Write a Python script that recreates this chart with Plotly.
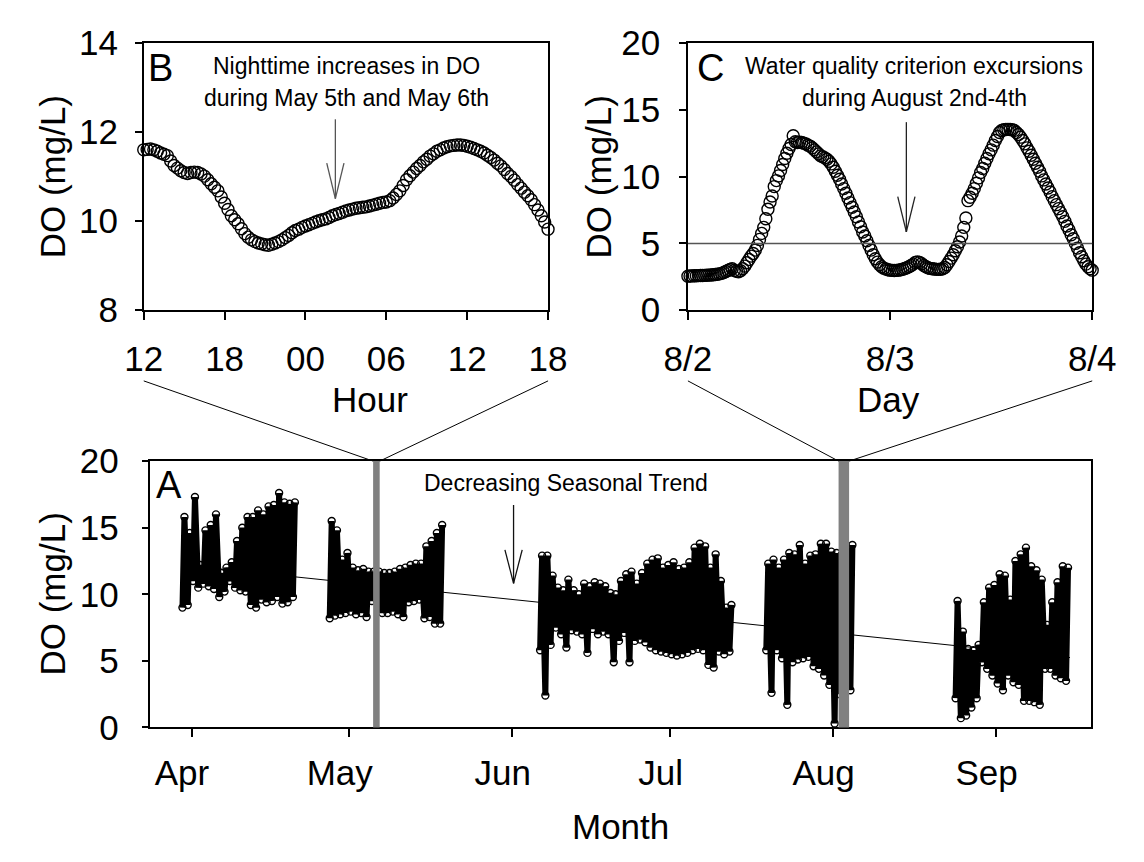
import pandas as pd
import plotly.graph_objects as go

W, H = 1144, 862
FONT = "Liberation Sans, Arial, sans-serif"

# ---------------- Panel B: May 5 12:00 -> May 6 18:00 (15-min DO, mg/L) ----------------
b_start = "2010-05-05 12:00"
b_end = "2010-05-06 18:00"
b_do = [
    11.60, 11.61, 11.62, 11.60, 11.57, 11.53, 11.50, 11.47,
    11.35, 11.25, 11.19, 11.13, 11.09, 11.07, 11.09, 11.10,
    11.09, 11.06, 11.01, 10.93, 10.84, 10.76, 10.68, 10.54,
    10.40, 10.26, 10.12, 10.03, 9.94, 9.83, 9.72, 9.64,
    9.58, 9.54, 9.51, 9.49, 9.47, 9.46, 9.48, 9.51,
    9.54, 9.58, 9.63, 9.68, 9.74, 9.79, 9.82, 9.86,
    9.89, 9.92, 9.95, 9.98, 10.01, 10.03, 10.05, 10.08,
    10.12, 10.15, 10.17, 10.20, 10.23, 10.25, 10.27, 10.29,
    10.30, 10.31, 10.32, 10.34, 10.36, 10.38, 10.40, 10.42,
    10.43, 10.46, 10.52, 10.60, 10.68, 10.80, 10.93, 11.02,
    11.10, 11.18, 11.25, 11.33, 11.39, 11.46, 11.51, 11.57,
    11.60, 11.64, 11.67, 11.69, 11.70, 11.71, 11.71, 11.70,
    11.68, 11.66, 11.63, 11.60, 11.57, 11.53, 11.48, 11.43,
    11.37, 11.30, 11.24, 11.16, 11.07, 11.00, 10.92, 10.82,
    10.74, 10.65, 10.57, 10.48, 10.37, 10.25, 10.12, 9.98,
    9.82,
]
b_tick_labels_fmt = "%H"

# ---------------- Panel C: Aug 2 00:00 -> Aug 4 00:00 (15-min DO, mg/L) ----------------
c_start = "2010-08-02 00:00"
c_end = "2010-08-04 00:00"
c_do = [
    2.55, 2.56, 2.57, 2.58, 2.58, 2.59, 2.60, 2.60,
    2.61, 2.62, 2.63, 2.64, 2.65, 2.67, 2.69, 2.72,
    2.76, 2.82, 2.90, 2.97, 3.05, 3.10, 2.98, 2.92,
    2.88, 2.95, 3.10, 3.30, 3.55, 3.80, 4.05, 4.25,
    4.50, 4.85, 5.30, 5.75, 6.20, 6.85, 7.55, 8.10,
    8.55, 9.25, 9.70, 10.05, 10.45, 10.90, 11.35, 11.75,
    12.10, 12.40, 13.05, 12.60, 12.55, 12.58, 12.55, 12.50,
    12.45, 12.35, 12.28, 12.15, 12.00, 11.85, 11.70, 11.55,
    11.48, 11.40, 11.30, 11.15, 10.95, 10.70, 10.40, 10.10,
    9.80, 9.45, 9.10, 8.75, 8.40, 8.05, 7.70, 7.35,
    7.00, 6.60, 6.25, 5.85, 5.55, 5.20, 4.85, 4.50,
    4.15, 3.85, 3.60, 3.40, 3.25, 3.15, 3.08, 3.03,
    3.00, 2.98, 2.97, 2.98, 3.00, 3.03, 3.07, 3.12,
    3.18, 3.26, 3.35, 3.45, 3.58, 3.62, 3.58, 3.48,
    3.35, 3.25, 3.18, 3.13, 3.10, 3.08, 3.06, 3.06,
    3.07, 3.10, 3.20, 3.40, 3.65, 3.90, 4.15, 4.45,
    4.75, 5.10, 5.55, 6.20, 6.90, 8.20, 8.45, 8.75,
    9.10, 9.50, 9.90, 10.30, 10.60, 11.00, 11.35, 11.70,
    12.00, 12.35, 12.70, 13.00, 13.30, 13.45, 13.50, 13.52,
    13.53, 13.52, 13.50, 13.45, 13.30, 13.15, 12.95, 12.70,
    12.45, 12.15, 11.90, 11.60, 11.30, 11.00, 10.70, 10.40,
    10.05, 9.75, 9.45, 9.15, 8.85, 8.50, 8.20, 7.90,
    7.60, 7.30, 7.00, 6.65, 6.30, 6.00, 5.65, 5.35,
    5.00, 4.65, 4.30, 4.00, 3.70, 3.45, 3.25, 3.10,
    3.00,
]
c_tick_days = ["2010-08-02", "2010-08-03", "2010-08-04"]
c_tick_labels = ["8/2", "8/3", "8/4"]
criterion = 5  # water quality criterion (mg/L)

# ---------------- Panel A: daily minimum / maximum DO per deployment ----------------
a_seg_starts = ["2010-03-30", "2010-04-27", "2010-06-06", "2010-07-19", "2010-08-24"]
a_min_1 = [9.0, 9.2, 11.0, 10.5, 10.8, 10.6, 10.4, 9.8, 10.2, 11.0, 10.5,
           10.3, 10.2, 9.2, 9.0, 9.6, 9.4, 9.5, 9.8, 9.3, 9.4, 9.8]
a_max_1 = [15.8, 14.6, 17.3, 12.2, 14.8, 15.2, 16.0, 11.6, 12.0, 12.4, 14.0,
           15.0, 15.8, 15.8, 16.3, 16.0, 16.6, 16.7, 17.6, 16.9, 16.8, 16.9]
a_min_2 = [8.2, 8.4, 8.5, 8.6, 8.7, 8.5, 8.6, 8.3, 9.5, 9.5, 8.6,
           8.6, 8.7, 8.5, 8.3, 9.4, 9.5, 9.6, 8.2, 8.3, 7.8, 7.8]
a_max_2 = [15.5, 14.8, 12.6, 13.1, 12.0, 11.8, 11.9, 11.7, 11.7, 11.7, 11.6,
           11.6, 11.7, 11.9, 12.0, 12.2, 12.3, 12.3, 13.6, 14.0, 14.6, 15.2]
a_min_3 = [5.8, 2.4, 6.2, 7.5, 7.0, 6.0, 7.3, 7.2, 7.0, 5.6, 7.4, 7.0, 7.2,
           7.0, 4.9, 6.5, 7.1, 4.9, 6.5, 6.6, 6.4, 6.0, 5.8, 5.7, 5.6, 5.5,
           5.4, 5.5, 5.6, 5.8, 5.9, 5.8, 4.7, 4.5, 5.7, 5.5, 5.7]
a_max_3 = [12.9, 12.9, 11.4, 10.5, 10.3, 11.1, 10.3, 10.0, 10.8, 10.6, 10.9,
           10.8, 10.6, 10.1, 10.0, 11.0, 11.5, 11.7, 10.8, 11.6, 12.3, 12.6,
           12.7, 12.0, 12.2, 12.4, 11.9, 12.0, 12.4, 13.5, 13.8, 13.6, 12.0,
           13.0, 11.0, 9.0, 9.2]
a_min_4 = [5.8, 2.6, 5.8, 5.2, 1.7, 4.9, 5.1, 5.2, 5.3, 4.6, 4.4, 3.9, 3.2,
           0.3, 2.5, 3.0, 2.8]
a_max_4 = [12.3, 12.6, 12.0, 12.6, 13.1, 13.0, 13.7, 12.3, 12.9, 13.0, 13.8,
           13.8, 13.2, 13.1, 13.0, 13.5, 13.7]
a_min_5 = [2.2, 0.7, 0.9, 1.5, 2.2, 4.9, 4.4, 3.9, 3.3, 2.8, 3.9, 3.4, 3.2,
           2.0, 2.0, 1.9, 1.7, 4.4, 4.4, 3.9, 3.7, 3.5]
a_max_5 = [9.5, 7.2, 5.9, 5.8, 6.2, 9.4, 10.5, 10.7, 11.5, 11.4, 9.6, 12.5,
           13.0, 13.5, 12.1, 11.8, 11.1, 7.7, 9.4, 10.9, 12.1, 12.0]
trend_dates = ["2010-03-30", "2010-09-15"]
trend_values = [12.2, 5.25]
a_month_ticks = ["2010-04-01", "2010-05-01", "2010-06-01", "2010-07-01", "2010-08-01", "2010-09-01"]
a_month_labels = ["Apr", "May", "Jun", "Jul", "Aug", "Sep"]
a_range = ["2010-03-24 04:00", "2010-09-19 01:00"]

# ---------------- layout geometry (pixels) ----------------
def PX(x):
    return x / W

def PY(y):
    return 1 - y / H

A_X = [PX(132), PX(1114)]
A_Y = [PY(741), PY(462)]
B_X = [PX(125), PX(547)]
TOP_Y = [PY(304), PY(24)]
C_X = [PX(693), PX(1115)]

fig = go.Figure()

# Panel A
fig.add_trace(go.Scatter(x=trend_dates, y=trend_values, mode="lines",
                         line=dict(color="black", width=1), xaxis="x", yaxis="y",
                         showlegend=False, hoverinfo="skip"))
a_x, a_y = [], []
segments = [(a_seg_starts[0], a_min_1, a_max_1), (a_seg_starts[1], a_min_2, a_max_2),
            (a_seg_starts[2], a_min_3, a_max_3), (a_seg_starts[3], a_min_4, a_max_4),
            (a_seg_starts[4], a_min_5, a_max_5)]
for start, mins, maxs in segments:
    days = pd.date_range(start, periods=len(mins), freq="D")
    for d, lo, hi in zip(days, mins, maxs):
        a_x += [(d + pd.Timedelta(hours=6)).isoformat(), (d + pd.Timedelta(hours=15)).isoformat()]
        a_y += [lo, hi]
    a_x.append(None)
    a_y.append(None)
fig.add_trace(go.Scatter(x=a_x, y=a_y, mode="lines+markers", connectgaps=False,
                         line=dict(color="black", width=6),
                         marker=dict(symbol="circle-open", size=7, color="black", line=dict(width=1.4)),
                         xaxis="x", yaxis="y", showlegend=False))

# Panel B
b_times = pd.date_range(b_start, periods=len(b_do), freq="15min")
fig.add_trace(go.Scatter(x=b_times, y=b_do, mode="markers", cliponaxis=False,
                         marker=dict(symbol="circle-open", size=12, color="black", line=dict(width=1.4)),
                         xaxis="x2", yaxis="y2", showlegend=False))

# Panel C
c_times = pd.date_range(c_start, periods=len(c_do), freq="15min")
fig.add_trace(go.Scatter(x=c_times, y=c_do, mode="markers", cliponaxis=False,
                         marker=dict(symbol="circle-open", size=12, color="black", line=dict(width=1.4)),
                         xaxis="x3", yaxis="y3", showlegend=False))

axis_common = dict(showline=True, mirror=True, linecolor="black", linewidth=1.5,
                   ticks="outside", tickcolor="black", tickwidth=1.5, showgrid=False,
                   zeroline=False, tickfont=dict(family=FONT, size=35, color="black"))

fig.update_layout(
    width=W, height=H, margin=dict(l=0, r=0, t=0, b=0),
    paper_bgcolor="white", plot_bgcolor="white", showlegend=False,
    xaxis=dict(domain=A_X, anchor="y", type="date", range=a_range,
               tickvals=a_month_ticks, ticktext=[m + "\u00a0\u00a0" for m in a_month_labels],
               ticklen=8, ticklabelstandoff=6, **axis_common),
    yaxis=dict(domain=A_Y, anchor="x", range=[0, 20], dtick=5, ticklen=7,
               ticklabelstandoff=16, **axis_common),
    xaxis2=dict(domain=B_X, anchor="y2", type="date", range=[b_start, b_end],
                tick0=b_start, dtick=6 * 3600 * 1000, tickformat=b_tick_labels_fmt,
                ticklen=8, ticklabelstandoff=9, **axis_common),
    yaxis2=dict(domain=TOP_Y, anchor="x2", range=[8, 14], dtick=2, ticklen=7,
                ticklabelstandoff=10, **axis_common),
    xaxis3=dict(domain=C_X, anchor="y3", type="date", range=[c_start, c_end],
                tickvals=c_tick_days, ticktext=c_tick_labels,
                ticklen=8, ticklabelstandoff=9, **axis_common),
    yaxis3=dict(domain=TOP_Y, anchor="x3", range=[0, 20], dtick=5, ticklen=7,
                ticklabelstandoff=12, **axis_common),
)

# map a date in panel A to paper x
a0, a1 = pd.Timestamp(a_range[0]), pd.Timestamp(a_range[1])
def a_paper_x(d):
    frac = (pd.Timestamp(d) - a0) / (a1 - a0)
    return A_X[0] + frac * (A_X[1] - A_X[0])

shapes = []
# grey bands in A showing zoomed windows
for x0, x1 in [(b_start, b_end), (c_start, c_end)]:
    shapes.append(dict(type="rect", xref="x", yref="y domain", x0=x0, x1=x1, y0=0, y1=1,
                       fillcolor="#808080", line=dict(width=0), layer="above"))
# connector lines
conn_y = PY(378)
for px_top, band_d in [(B_X[0], b_start), (B_X[1], b_end), (C_X[0], c_start), (C_X[1], c_end)]:
    shapes.append(dict(type="line", xref="paper", yref="paper", x0=px_top, y0=conn_y,
                       x1=a_paper_x(band_d), y1=A_Y[1], line=dict(color="black", width=1)))
# criterion line in C
shapes.append(dict(type="line", xref="x3 domain", yref="y3", x0=0, x1=1, y0=criterion, y1=criterion,
                   line=dict(color="#555555", width=1.5)))

# open arrows (pixel geometry)
def arrow(x, ytop, ytip, yhead, half, color):
    out = [dict(type="line", xref="paper", yref="paper", x0=PX(x), x1=PX(x), y0=PY(ytop), y1=PY(ytip),
                line=dict(color=color, width=1.3))]
    for s in (-1, 1):
        out.append(dict(type="line", xref="paper", yref="paper", x0=PX(x + s * half), x1=PX(x),
                        y0=PY(yhead), y1=PY(ytip), line=dict(color=color, width=1.3)))
    return out

shapes += arrow(325, 104, 187, 150, 9, "#555555")
shapes += arrow(921, 107, 222, 185, 9, "#222222")
shapes += arrow(511, 508, 590, 555, 9, "#111111")
fig.update_layout(shapes=shapes)

ann = []
def text(x, y, s, size, angle=0):
    ann.append(dict(xref="paper", yref="paper", x=PX(x), y=PY(y), text=s, showarrow=False,
                    xanchor="center", yanchor="middle", textangle=angle,
                    font=dict(family=FONT, size=size, color="black")))

text(142, 50, "B", 38)
text(717, 50, "C", 38)
text(151, 487, "A", 38)
text(337, 48, "Nighttime increases in DO", 23)
text(337, 82, "during May 5th and May 6th", 23)
text(929, 48, "Water quality criterion excursions", 23)
text(929, 82, "during August 2nd-4th", 23)
text(566, 485, "Decreasing Seasonal Trend", 23)
text(30, 164, "DO (mg/L)", 35, -90)
text(600, 164, "DO (mg/L)", 35, -90)
text(30, 601, "DO (mg/L)", 35, -90)
text(361, 397, "Hour", 35)
text(902, 397, "Day", 35)
text(623, 845, "Month", 35)
fig.update_layout(annotations=ann)

fig.write_html("out.html")
